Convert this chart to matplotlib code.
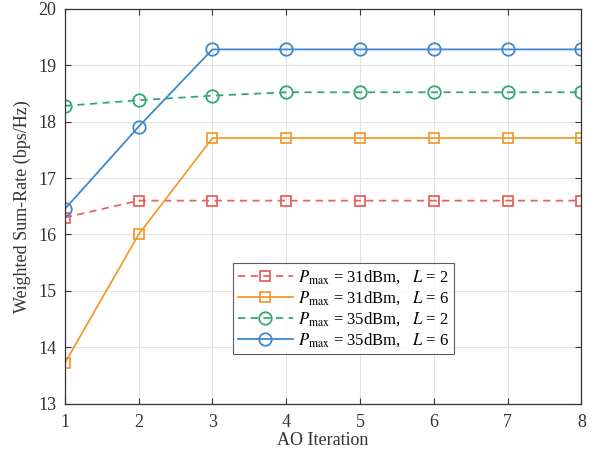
import matplotlib
matplotlib.use('Agg')
import matplotlib.pyplot as plt

plt.rcParams['font.family'] = ['Liberation Serif', 'DejaVu Serif']
plt.rcParams['mathtext.fontset'] = 'stix'

# AO iterations
iters = [1, 2, 3, 4, 5, 6, 7, 8]

# weighted sum-rate values
p31_L2 = [16.30, 16.60, 16.60, 16.60, 16.60, 16.60, 16.60, 16.60]
p31_L6 = [13.72, 16.00, 17.71, 17.71, 17.71, 17.71, 17.71, 17.71]
p35_L2 = [18.28, 18.38, 18.46, 18.52, 18.52, 18.52, 18.52, 18.52]
p35_L6 = [16.45, 17.91, 19.28, 19.28, 19.28, 19.28, 19.28, 19.28]

labels = [
    r'$P_{\rm max}$ = 31dBm,   $L$ = 2',
    r'$P_{\rm max}$ = 31dBm,   $L$ = 6',
    r'$P_{\rm max}$ = 35dBm,   $L$ = 2',
    r'$P_{\rm max}$ = 35dBm,   $L$ = 6',
]

fig = plt.figure(figsize=(6, 4.62), dpi=100)
ax = fig.add_axes([0.108, 0.126, 0.861, 0.855])

ax.plot(iters, p31_L2, '--s', color='#E8635F', lw=1.3, ms=7, mfc='none', mew=1.3,
        dashes=(4, 3), label=labels[0])
ax.plot(iters, p31_L6, '-s', color='#F29B30', lw=1.3, ms=7, mfc='none', mew=1.3, label=labels[1])
ax.plot(iters, p35_L2, '--o', color='#33A873', lw=1.3, ms=9, mfc='none', mew=1.3,
        dashes=(4, 3), label=labels[2])
ax.plot(iters, p35_L6, '-o', color='#3F88CC', lw=1.3, ms=9, mfc='none', mew=1.3, label=labels[3])

ax.set_xlim(1, 8)
ax.set_ylim(13, 20)
ax.set_xticks(iters)
ax.set_yticks(range(13, 21))
ax.grid(True, color='#E3E3E3', lw=0.8)
ax.set_axisbelow(True)
ax.tick_params(direction='in', top=True, right=True, labelsize=13, length=4, colors='#333333')
ax.tick_params(axis='x', pad=7)
ax.tick_params(axis='y', pad=6)
for s in ax.spines.values():
    s.set_color('#333333')
    s.set_linewidth(0.9)

ax.set_xlabel('AO Iteration', fontsize=13, color='#333333', labelpad=1)
ax.set_ylabel('Weighted Sum-Rate (bps/Hz)', fontsize=13, color='#333333', labelpad=5)

leg = ax.legend(loc='lower left', bbox_to_anchor=(0.325, 0.125), fontsize=12, frameon=True,
                fancybox=False, edgecolor='#333333', handlelength=3.3, handletextpad=0.3,
                borderpad=0.3, labelspacing=0.2, borderaxespad=0)
leg.get_frame().set_linewidth(0.8)

fig.savefig('out.png', dpi=100)
